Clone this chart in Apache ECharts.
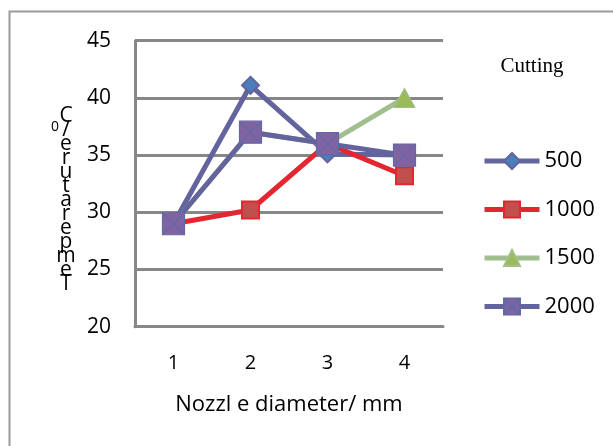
<!DOCTYPE html>
<html>
<head>
<meta charset="utf-8">
<script src="https://cdn.jsdelivr.net/npm/echarts@6/dist/echarts.min.js"></script>
<style>html,body{margin:0;padding:0;background:#fff}#c{width:613px;height:446px}</style>
</head>
<body>
<div id="c"></div>
<script>
const categories = ['1', '2', '3', '4'];
const s500 = [29, 41.1, 35.1, 35];
const s1000 = [29, 30.2, 36, 33.2];
const s1500 = [29, 37, 36, 40];
const s2000 = [29, 37, 36, 35];
const seriesNames = ['500', '1000', '1500', '2000'];
const xAxisTitle = 'Nozzl e diameter/ mm';
const yAxisTitleStack = 'C\n/\ne\nr\nu\nt\na\nr\ne\np\nm\ne\nT';
const legendTitle = 'Cutting';

const font = '"Open Sans", "Noto Sans", sans-serif';
const grey = '#878787';
const purpleLine = '#63649E';
const crossSquare = 'path://M0,0L10,0L10,10L0,10Z M0,0L10,10 M10,0L0,10';

const chart = echarts.init(document.getElementById('c'), null, {renderer: 'canvas'});
chart.setOption({
  animation: false,
  backgroundColor: '#fff',
  grid: {left: 135, right: 170, top: 40.7, bottom: 119.3, containLabel: false},
  xAxis: {
    type: 'category',
    data: categories,
    boundaryGap: true,
    axisLine: {show: true, lineStyle: {color: grey, width: 3}},
    axisTick: {show: false},
    axisLabel: {margin: 27, fontSize: 20, color: '#000', fontFamily: font},
    name: xAxisTitle,
    nameLocation: 'middle',
    nameGap: 67,
    nameTextStyle: {fontSize: 22, color: '#000', fontFamily: font}
  },
  yAxis: {
    type: 'value',
    min: 20, max: 45, interval: 5,
    axisLine: {show: true, lineStyle: {color: grey, width: 3}},
    axisTick: {show: false},
    axisLabel: {margin: 24, fontSize: 21, color: '#000', fontFamily: font},
    splitLine: {show: true, lineStyle: {color: grey, width: 3}}
  },
  legend: {
    orient: 'vertical',
    left: 477,
    top: 145,
    itemWidth: 55,
    itemHeight: 20,
    itemGap: 26.5,
    data: seriesNames,
    lineStyle: {width: 5},
    textStyle: {fontSize: 22, color: '#000', fontFamily: font}
  },
  graphic: [
    {type: 'rect', shape: {x: 9.5, y: 11.5, width: 640, height: 460}, style: {fill: 'none', stroke: '#9a9a9a', lineWidth: 2}, silent: true},
    {type: 'text', x: 66, y: 200, style: {text: yAxisTitleStack, font: '21px "Open Sans", sans-serif', fill: '#000', textAlign: 'center', textVerticalAlign: 'middle', lineHeight: 14}},
    {type: 'text', x: 55, y: 127, style: {text: '0', font: '14px "Open Sans", sans-serif', fill: '#000', textAlign: 'center', textVerticalAlign: 'middle'}},
    {type: 'text', x: 532, y: 66, style: {text: legendTitle, font: '21px "Liberation Serif", serif', fill: '#000', textAlign: 'center', textVerticalAlign: 'middle'}}
  ],
  series: [
    {name: '500', type: 'line', data: s500, symbol: 'diamond', symbolSize: 17,
      lineStyle: {color: purpleLine, width: 5},
      itemStyle: {color: '#4A7EBB', borderColor: purpleLine, borderWidth: 2}},
    {name: '1000', type: 'line', data: s1000, symbol: 'rect', symbolSize: 17,
      lineStyle: {color: '#E3262F', width: 5},
      itemStyle: {color: '#C0504D', borderColor: '#E3262F', borderWidth: 2}},
    {name: '1500', type: 'line', data: s1500, symbol: 'triangle', symbolSize: [21, 19],
      lineStyle: {color: '#A0BE8E', width: 5},
      itemStyle: {color: '#9BBB59', borderColor: '#A0BE8E', borderWidth: 1}},
    {name: '2000', type: 'line', data: s2000, symbol: crossSquare, symbolSize: 22,
      lineStyle: {color: purpleLine, width: 5},
      itemStyle: {color: '#8064A2', borderColor: '#6467A6', borderWidth: 1.2}}
  ]
});
</script>
</body>
</html>
